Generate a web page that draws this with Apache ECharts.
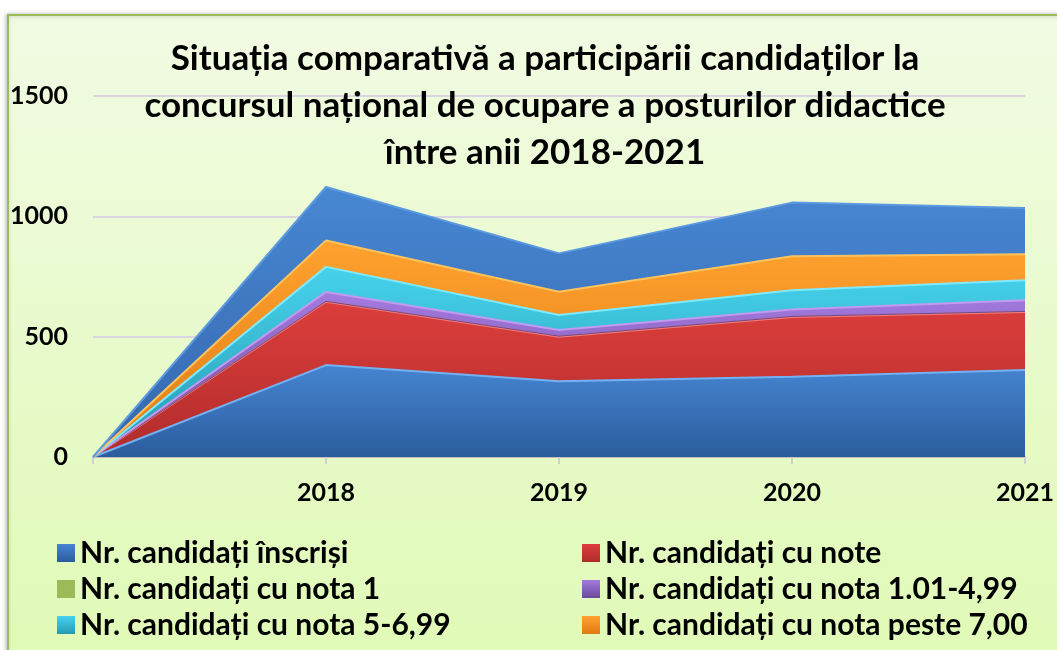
<!DOCTYPE html>
<html>
<head>
<meta charset="utf-8">
<title>Situația comparativă</title>
<script src="https://cdn.jsdelivr.net/npm/echarts@6/dist/echarts.min.js"></script>
<style>
  html, body { margin: 0; padding: 0; background: #fff; }
  #chart { width: 1057px; height: 650px; }
</style>
</head>
<body>
<div id="chart"></div>
<script>
  // date (valori pe straturi, cumulate in stiva)
  const years = ['', '2018', '2019', '2020', '2021'];
  const inscrisi = [0, 382, 315, 333, 361];
  const cuNote = [0, 263, 185, 249, 242];
  const nota1 = [0, 2, 2, 2, 2];
  const nota1_499 = [0, 39, 26, 29, 46];
  const nota5_699 = [0, 104, 62, 80, 83];
  const peste7 = [0, 110, 97, 141, 108];
  const restTotal = [0, 222, 159, 223, 193];
  const yTicks = [0, 500, 1000, 1500];

  const names = [
    'Nr. candidați înscriși',
    'Nr. candidați cu note',
    'Nr. candidați cu nota 1',
    'Nr. candidați cu nota 1.01-4,99',
    'Nr. candidați cu nota 5-6,99',
    'Nr. candidați cu nota peste 7,00'
  ];

  const grad = (top, bottom) => new echarts.graphic.LinearGradient(0, 0, 0, 1, [
    { offset: 0, color: top },
    { offset: 1, color: bottom }
  ]);

  const layer = (name, data, top, bottom, edge, w) => ({
    name: name,
    type: 'line',
    stack: 'total',
    data: data,
    symbol: 'none',
    lineStyle: { color: edge, width: w || 2 },
    areaStyle: { color: grad(top, bottom), opacity: 1 },
    itemStyle: { color: grad(top, bottom) },
    emphasis: { disabled: true }
  });

  // cate o legenda pentru fiecare element: 2 coloane x 3 randuri
  const legendPos = [
    [57, 553], [582, 553],
    [57, 589], [582, 589],
    [57, 625], [582, 625]
  ];
  const legends = names.map((n, i) => ({
    data: [n],
    left: legendPos[i][0],
    top: legendPos[i][1] - 16,
    padding: 0,
    itemWidth: 18,
    itemHeight: 18,
    icon: 'rect',
    selectedMode: false,
    textStyle: { fontFamily: 'Lato', fontWeight: 'bold', fontSize: 30, lineHeight: 32, color: '#000' }
  }));

  const chart = echarts.init(document.getElementById('chart'));
  chart.setOption({
    animation: false,
    textStyle: { fontFamily: 'Lato', fontWeight: 'bold', color: '#000' },
    graphic: [
      {
        type: 'rect',
        silent: true,
        z: -10,
        shape: { x: 8, y: 15, width: 1060, height: 645 },
        style: {
          fill: new echarts.graphic.LinearGradient(0, 0, 0, 1, [
            { offset: 0, color: '#f1fbe3' },
            { offset: 1, color: '#e0fab6' }
          ]),
          stroke: '#9bbb59',
          lineWidth: 2,
          shadowColor: 'rgba(0,0,0,0.25)',
          shadowBlur: 4,
          shadowOffsetX: -1
        }
      }
    ],
    title: {
      text: 'Situația comparativă a participării candidaților la\nconcursul național de ocupare a posturilor didactice\nîntre anii 2018-2021',
      left: 540,
      textAlign: 'center',
      top: 30,
      textStyle: { fontFamily: 'Lato', fontWeight: 'bold', fontSize: 35, lineHeight: 47, color: '#000' }
    },
    legend: legends,
    grid: { left: 93, right: 32, top: 96, bottom: 193 },
    xAxis: {
      type: 'category',
      data: years,
      boundaryGap: false,
      axisLine: { lineStyle: { color: '#bdbdbd', width: 2 } },
      axisTick: { show: true, length: 7, lineStyle: { color: '#cfcfcf', width: 2 } },
      axisLabel: { fontFamily: 'Lato', fontWeight: 'bold', fontSize: 25, color: '#000', margin: 23, interval: 0 }
    },
    yAxis: {
      type: 'value',
      min: yTicks[0],
      max: yTicks[yTicks.length - 1],
      interval: 500,
      axisLine: { show: false },
      axisTick: { show: false },
      splitLine: { lineStyle: { color: '#d9d5e3', width: 2 } },
      axisLabel: {
        fontFamily: 'Lato', fontWeight: 'bold', fontSize: 25, color: '#000', margin: 25,
        formatter: (v) => String(v)
      }
    },
    series: [
      layer(names[0], inscrisi, '#4685d2', '#2c5c9c', '#72b2f4'),
      layer(names[1], cuNote, '#dc3e3c', '#b02c2a', '#f47b78'),
      layer(names[2], nota1, '#9bbb59', '#9bbb59', '#6b4a8a', 1),
      layer(names[3], nota1_499, '#a47adf', '#6a4a9a', '#c29af0'),
      layer(names[4], nota5_699, '#46d2ec', '#2799b2', '#7eeaff'),
      layer(names[5], peste7, '#ffa22f', '#e07a14', '#ffc35e'),
      layer('Total', restTotal, '#4887d3', '#3466ac', '#5c9ae0')
    ]
  });
</script>
</body>
</html>
